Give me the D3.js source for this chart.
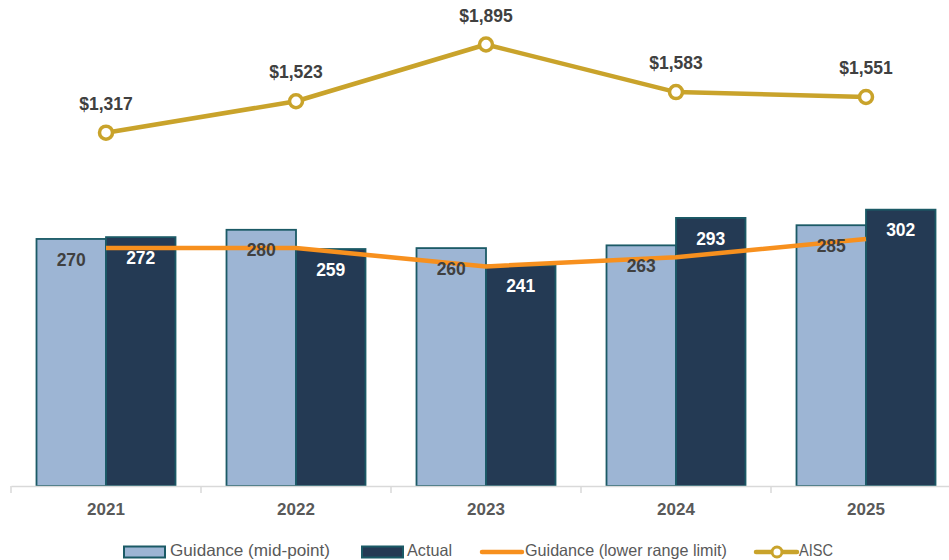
<!DOCTYPE html>
<html>
<head>
<meta charset="utf-8">
<script src="https://cdn.jsdelivr.net/npm/d3@7"></script>
<style>
  html, body { margin: 0; padding: 0; background: #ffffff; }
  svg { display: block; font-family: "Liberation Sans", Arial, sans-serif; }
</style>
</head>
<body>
<svg id="chart" width="949" height="560"></svg>
<script>
// Production (koz) and all-in sustaining cost per year
const years = ["2021", "2022", "2023", "2024", "2025"];
const guidanceMid = [270, 280, 260, 263, 285];
const actual = [272, 259, 241, 293, 302];
const guidanceLower = [260, 260, 240, 250, 270];
const aisc = [1317, 1523, 1895, 1583, 1551];

const seriesNames = ["Guidance (mid-point)", "Actual", "Guidance (lower range limit)", "AISC"];

const colors = {
  guidance: "#9db5d4",
  actual: "#243a54",
  barStroke: "#1b5a66",
  lower: "#f7901e",
  aisc: "#c9a32b",
  axis: "#d9d9d9",
  text: "#404040",
  cat: "#595959"
};

const svg = d3.select("#chart");

const x = d3.scaleBand().domain(years).range([11, 961]).paddingInner(0).paddingOuter(0);
const xSeries = d3.scaleBand().domain(["guidance", "actual"]).range([25.5, 164.5]);
const y = d3.scaleLinear().domain([0, 500]).range([486, 28.5]);
const y2 = d3.scaleLinear().domain([-1000, 2000]).range([486, 28.5]);
const cx = d => x(d) + x.bandwidth() / 2;

// Bars
const barData = [];
years.forEach((yr, i) => {
  barData.push({ year: yr, key: "guidance", value: guidanceMid[i] });
  barData.push({ year: yr, key: "actual", value: actual[i] });
});

svg.append("g").selectAll("rect").data(barData).join("rect")
  .attr("x", d => x(d.year) + xSeries(d.key))
  .attr("y", d => y(d.value))
  .attr("width", xSeries.bandwidth())
  .attr("height", d => y(0) - y(d.value))
  .attr("fill", d => d.key === "guidance" ? colors.guidance : colors.actual)
  .attr("stroke", colors.barStroke)
  .attr("stroke-width", 1.8);

// X axis
const xAxis = svg.append("g").attr("transform", "translate(0,486)")
  .call(d3.axisBottom(x).tickSize(0).tickFormat(""));
xAxis.select(".domain").attr("stroke", colors.axis).attr("stroke-width", 1.5);
xAxis.selectAll(".tick").remove();
svg.append("g").selectAll("line").data(years).join("line")
  .attr("x1", d => x(d)).attr("x2", d => x(d))
  .attr("y1", 486).attr("y2", 493)
  .attr("stroke", colors.axis).attr("stroke-width", 1.5);

svg.append("g").selectAll("text").data(years).join("text")
  .attr("x", d => cx(d))
  .attr("y", 511)
  .attr("text-anchor", "middle")
  .attr("dominant-baseline", "middle")
  .attr("font-size", 17)
  .attr("font-weight", "bold")
  .attr("fill", colors.cat)
  .text(d => d);

// Guidance lower range line
svg.append("path")
  .datum(years.map((yr, i) => [cx(yr), y(guidanceLower[i])]))
  .attr("d", d3.line())
  .attr("fill", "none")
  .attr("stroke", colors.lower)
  .attr("stroke-width", 4.5)
  .attr("stroke-linejoin", "round");

// AISC line with markers
svg.append("path")
  .datum(years.map((yr, i) => [cx(yr), y2(aisc[i])]))
  .attr("d", d3.line())
  .attr("fill", "none")
  .attr("stroke", colors.aisc)
  .attr("stroke-width", 4.5)
  .attr("stroke-linejoin", "round");

svg.append("g").selectAll("circle").data(years).join("circle")
  .attr("cx", d => cx(d))
  .attr("cy", (d, i) => y2(aisc[i]))
  .attr("r", 6.5)
  .attr("fill", "#ffffff")
  .attr("stroke", colors.aisc)
  .attr("stroke-width", 3.5);

// Data labels, drawn above every series
svg.append("g").selectAll("text").data(barData).join("text")
  .attr("x", d => x(d.year) + xSeries(d.key) + xSeries.bandwidth() / 2)
  .attr("y", d => y(d.value) + 22)
  .attr("text-anchor", "middle")
  .attr("dominant-baseline", "middle")
  .attr("font-size", 17.5)
  .attr("font-weight", "bold")
  .attr("fill", d => d.key === "guidance" ? colors.text : "#ffffff")
  .text(d => d.value);

svg.append("g").selectAll("text").data(years).join("text")
  .attr("x", d => cx(d))
  .attr("y", (d, i) => y2(aisc[i]) - 27.5)
  .attr("text-anchor", "middle")
  .attr("dominant-baseline", "middle")
  .attr("font-size", 17.5)
  .attr("font-weight", "bold")
  .attr("fill", colors.text)
  .text((d, i) => "$" + d3.format(",")(aisc[i]));

// Legend
const legend = svg.append("g").attr("font-size", 16.5).attr("fill", colors.cat);
const ly = 552;
const legendText = (xPos, label, len) => legend.append("text")
  .attr("x", xPos).attr("y", ly).attr("dominant-baseline", "middle")
  .attr("textLength", len).attr("lengthAdjust", "spacingAndGlyphs")
  .text(label);

legend.append("rect").attr("x", 124).attr("y", 546.5).attr("width", 41).attr("height", 11)
  .attr("fill", colors.guidance).attr("stroke", colors.barStroke).attr("stroke-width", 2);
legendText(170, seriesNames[0], 160);

legend.append("rect").attr("x", 362).attr("y", 546.5).attr("width", 41).attr("height", 11)
  .attr("fill", colors.actual).attr("stroke", colors.barStroke).attr("stroke-width", 2);
legendText(407, seriesNames[1], 45);

legend.append("line").attr("x1", 482).attr("x2", 522).attr("y1", ly).attr("y2", ly)
  .attr("stroke", colors.lower).attr("stroke-width", 4.5).attr("stroke-linecap", "round");
legendText(525, seriesNames[2], 202);

legend.append("line").attr("x1", 756).attr("x2", 797).attr("y1", ly).attr("y2", ly)
  .attr("stroke", colors.aisc).attr("stroke-width", 4.5).attr("stroke-linecap", "round");
legend.append("circle").attr("cx", 777).attr("cy", ly).attr("r", 5)
  .attr("fill", "#ffffff").attr("stroke", colors.aisc).attr("stroke-width", 3);
legendText(799, seriesNames[3], 34);
</script>
</body>
</html>
